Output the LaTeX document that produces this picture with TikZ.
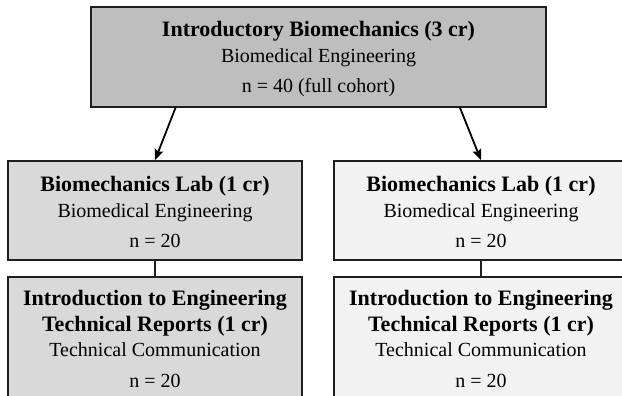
\documentclass[tikz,border=0pt]{standalone}
\usepackage{fontspec}
\setmainfont{Liberation Serif}
\usetikzlibrary{arrows.meta}
\definecolor{topgray}{RGB}{190,190,190}
\definecolor{leftgray}{RGB}{217,217,217}
\definecolor{rightgray}{RGB}{242,242,242}
\definecolor{edge}{RGB}{30,30,30}
\begin{document}
\begin{tikzpicture}[x=1pt,y=-1pt,
 box/.style={draw=edge, line width=1.6pt, minimum width=294pt, minimum height=99pt, inner sep=0pt},
 ttl/.style={anchor=base, font=\fontsize{22}{26}\selectfont\bfseries, inner sep=0pt},
 sub/.style={anchor=base, font=\fontsize{20}{24}\selectfont, inner sep=0pt},
 arr/.style={line width=1.8pt, draw=black, -{Stealth[length=11pt,width=9pt,inset=2pt]}},
 link/.style={line width=1.5pt, draw=edge}]
\useasboundingbox (0,0) rectangle (622,396);
\begin{scope}
\clip (0,0) rectangle (622,396);
% boxes
\node[box, fill=topgray, minimum width=455pt, minimum height=100pt] (top) at (318.5,57) {};
\node[box, fill=leftgray] (mid1) at (155,210.5) {};
\node[box, fill=rightgray] (mid2) at (481,210.5) {};
\node[box, fill=leftgray, minimum height=140pt] (bot1) at (155,347) {};
\node[box, fill=rightgray, minimum height=140pt] (bot2) at (481,347) {};
% texts top
\node[ttl] (t1) at (318.5,37) {Introductory Biomechanics (3 cr)};
\node[sub] (t2) at (318.5,63) {Biomedical Engineering};
\node[sub] (t3) at (318.5,92.5) {n = 40 (full cohort)};
% texts mid
\node[ttl] (m1a) at (155,191) {Biomechanics Lab (1 cr)};
\node[sub] (m1b) at (155,217) {Biomedical Engineering};
\node[sub] (m1c) at (155,247) {n = 20};
\node[ttl] (m2a) at (481,191) {Biomechanics Lab (1 cr)};
\node[sub] (m2b) at (481,217) {Biomedical Engineering};
\node[sub] (m2c) at (481,247) {n = 20};
% texts bottom
\node[ttl] (b1a) at (155,305) {Introduction to Engineering};
\node[ttl] (b1b) at (155,331) {Technical Reports (1 cr)};
\node[sub] (b1c) at (155,356) {Technical Communication};
\node[sub] (b1d) at (155,387) {n = 20};
\node[ttl] (b2a) at (481,305) {Introduction to Engineering};
\node[ttl] (b2b) at (481,331) {Technical Reports (1 cr)};
\node[sub] (b2c) at (481,356) {Technical Communication};
\node[sub] (b2d) at (481,387) {n = 20};
% connectors
\draw[arr] ([xshift=-143pt]top.south) -- (mid1.north);
\draw[arr] ([xshift=141.5pt]top.south) -- (mid2.north);
\draw[link] (mid1.south) -- (bot1.north);
\draw[link] (mid2.south) -- (bot2.north);
\end{scope}
\end{tikzpicture}
\end{document}
